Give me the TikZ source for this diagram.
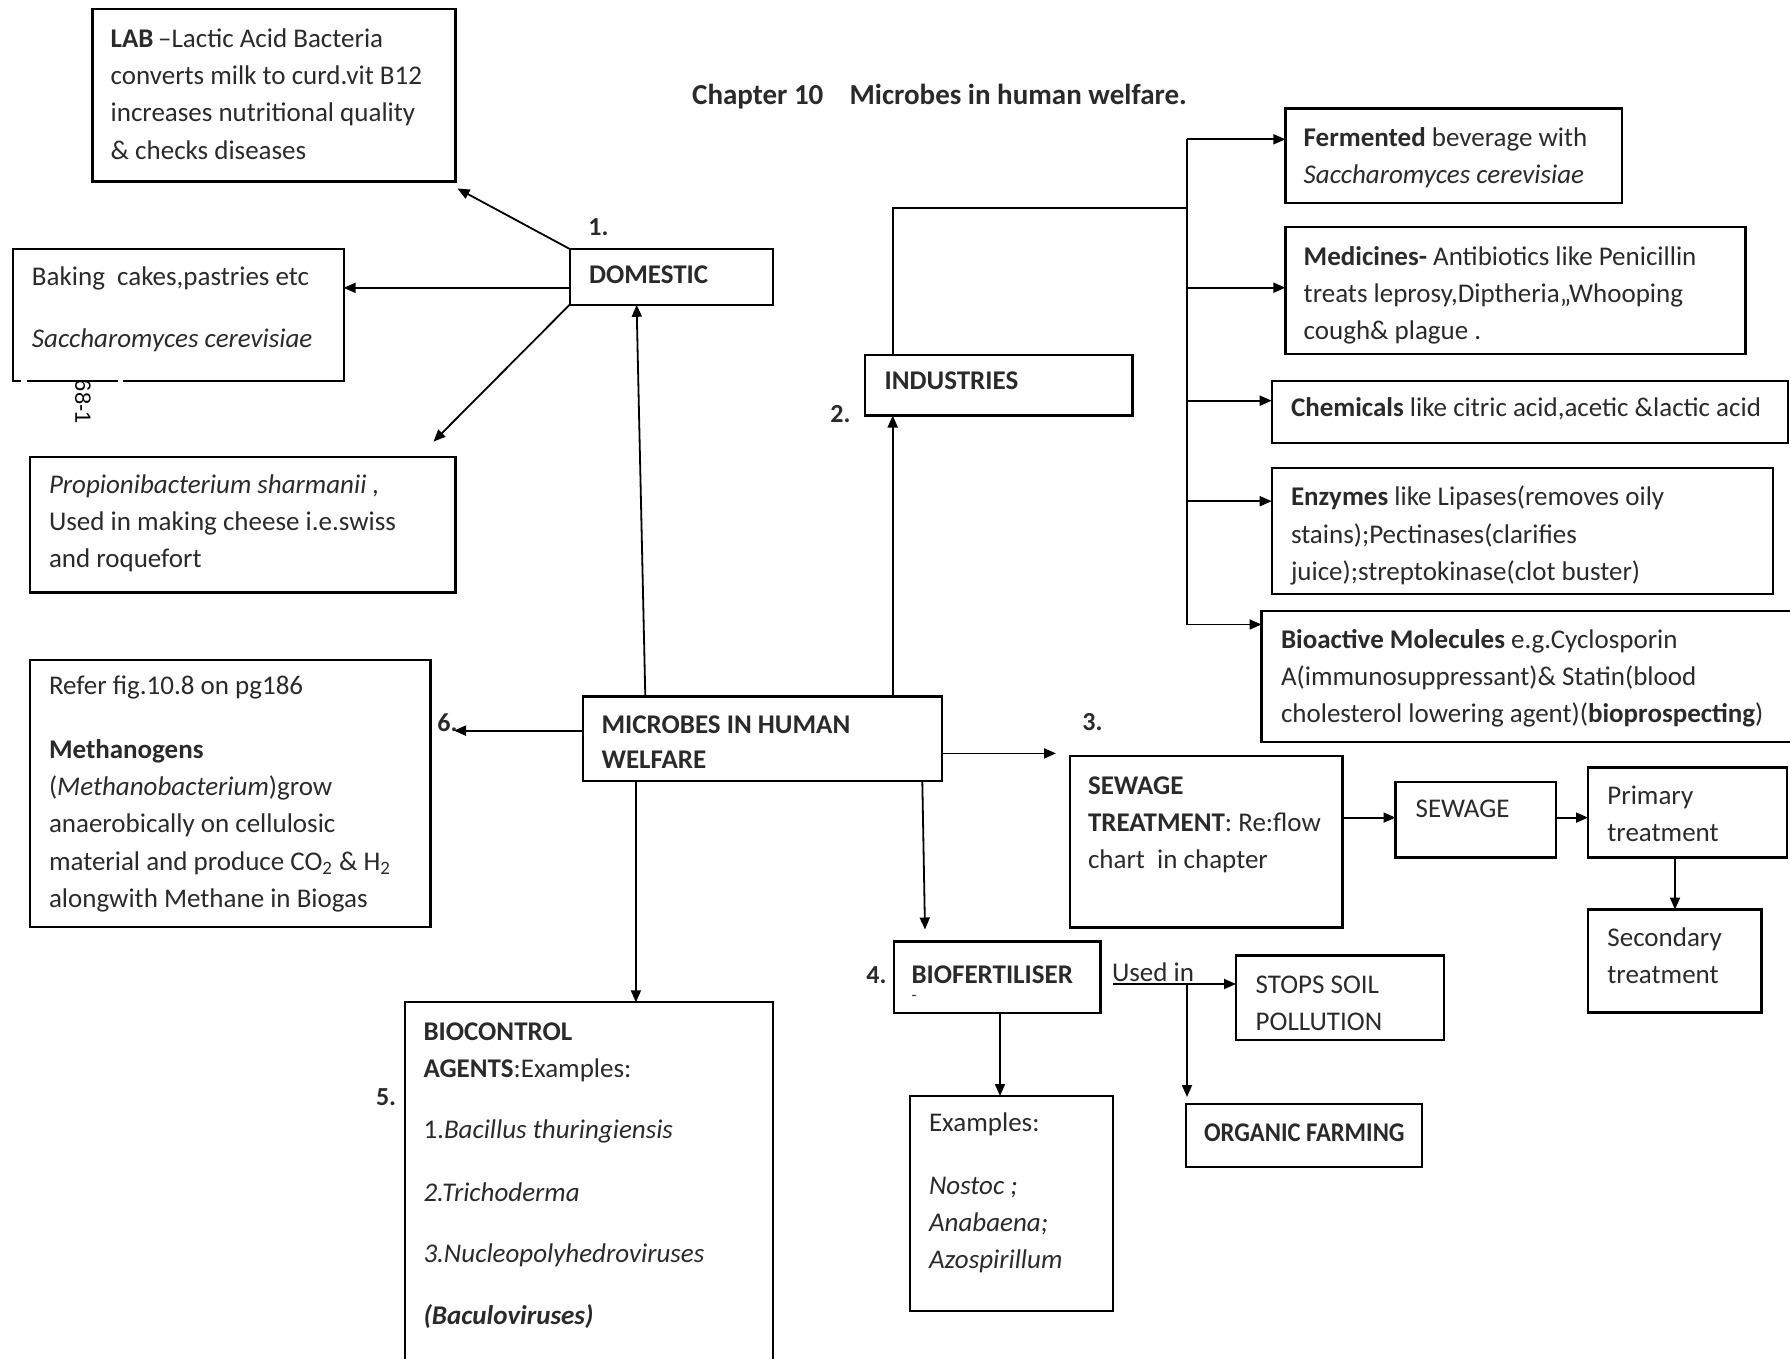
\documentclass[tikz,border=0pt]{standalone}
\usepackage{fontspec}
\setmainfont{Carlito}
\newfontfamily\pagenofont{Liberation Sans}
\usetikzlibrary{arrows.meta,calc,fit}
\definecolor{ink}{HTML}{2A2A2A}
% strut that fixes the height of the first line of every text block
\newcommand\fl{\rule{0pt}{11pt}}
\begin{document}
\begin{tikzpicture}[x=0.5pt,y=-0.5pt,
  box/.style={draw=black,line width=1.1pt,inner sep=0pt,outer sep=0pt},
  conn/.style={line width=0.9pt},
  arr/.style={conn,-{Triangle[length=6pt,width=5pt]}},
  txt/.style={anchor=north west,inner sep=0pt,outer sep=0pt,align=left,yshift=11pt,
              text=ink,font=\fontsize{13.5}{18.7}\selectfont},
  num/.style={anchor=base west,inner sep=0pt,text=ink,font=\fontsize{13}{15}\selectfont\bfseries}]
\useasboundingbox (0,0) rectangle (1790,1359);
\clip (0,0) rectangle (1790,1359);

% ---------- title ----------
\node[anchor=base west,inner sep=0pt,text=ink,font=\fontsize{14.5}{17}\selectfont\bfseries]
  (title) at (691.8,105) {Chapter 10\hspace{0.9em}Microbes in human welfare.};

% ---------- boxes ----------
\node[box,fit={(92.5,9) (455.5,181.5)}]      (lab)  {};
\node[box,fit={(569.6,248.9) (772.9,304.8)}] (dom)  {};
\node[box,fit={(12.6,248.9) (343.6,381.3)}]  (bak)  {};
\node[box,fit={(29.7,456.6) (455.5,592.5)}]  (prop) {};
\node[box,fit={(29.7,659.8) (430.4,927)}]    (meth) {};
\node[box,fit={(583.3,696.4) (941.8,780.8)}] (mic)  {};
\node[box,fit={(865.3,355) (1132.5,415.5)}]  (ind)  {};
\node[box,fit={(1285.4,108.5) (1622.2,203.2)}] (fer) {};
\node[box,fit={(1285.4,227.2) (1745.5,353.9)}] (med) {};
\node[box,fit={(1271.7,381.3) (1787.7,443)}]   (chem) {};
\node[box,fit={(1271.7,468) (1772.9,593.6)}]   (enz) {};
\node[box,fit={(1261.5,610.7) (1800,742)}]     (bio) {};
\node[box,fit={(1069.7,755.7) (1342.5,927.5)}] (st)  {};
\node[box,fit={(1395.5,782) (1556,857.5)}]     (sew) {};
\node[box,fit={(1588,767.5) (1787,857.5)}]     (pri) {};
\node[box,fit={(1588,909.5) (1761.5,1012.5)}]  (sec) {};
\node[box,fit={(894,941.5) (1100.5,1012.8)}]   (bf)  {};
\node[box,fit={(1236,955.5) (1444,1040)}]      (stop) {};
\node[box,fit={(1186,1104) (1422,1167)}]       (org) {};
\node[box,fit={(910,1096) (1113,1310.6)}]      (ex)  {};
\node[box,fit={(405.3,1002.3) (772.9,1375)}]   (bc)  {};

% small breaks in the lower border of the baking box and the page mark
\fill[white] (21,378) rectangle (27,385);
\fill[white] (118,378) rectangle (123,385);
\node[rotate=-90,inner sep=0pt,font=\pagenofont\fontsize{11}{12}\selectfont] (pageno) at (83,402) {68-1};

% ---------- texts ----------
\node[txt] (labt) at (110.7,47) {\fl\textbf{LAB}\,–Lactic Acid Bacteria\\converts milk to curd.vit B12\\increases nutritional quality\\\& checks diseases};
\node[txt] (domt) at (589,284) {\fl\textbf{DOMESTIC}};
\node[num] (n1) at (588,235) {1.};
\node[txt] (bakt) at (32,285) {\fl Baking\ \ cakes,pastries etc\\[12.4pt]\textit{Saccharomyces cerevisiae}};
\node[txt] (propt) at (49,493) {\fl\textit{Propionibacterium sharmanii ,}\\Used in making cheese i.e.swiss\\and roquefort};
\node[txt] (metht) at (49,694) {\fl Refer fig.10.8 on pg186\\[13.3pt]\textbf{Methanogens}\\(\textit{Methanobacterium})grow\\anaerobically on cellulosic\\material and produce CO\textsubscript{2} \& H\textsubscript{2}\\alongwith Methane in Biogas};
\node[txt,font=\fontsize{13.5}{17.7}\selectfont\bfseries] (mict) at (601.6,733) {\fl MICROBES IN HUMAN\\WELFARE};
\node[num] (n6) at (437,731) {6.};
\node[txt] (indt) at (884.7,389) {\fl\textbf{INDUSTRIES}};
\node[num] (n2) at (830,422) {2.};
\node[txt] (fert) at (1303.7,146) {\fl\textbf{Fermented} beverage with\\\textit{Saccharomyces cerevisiae}};
\node[txt] (medt) at (1303.7,265) {\fl\textbf{Medicines-} Antibiotics like Penicillin\\treats leprosy,Diptheria,,Whooping\\cough\& plague .};
\node[txt] (chemt) at (1291,416.5) {\fl\textbf{Chemicals} like citric acid,acetic \&lactic acid};
\node[txt] (enzt) at (1291,505.6) {\fl\textbf{Enzymes} like Lipases(removes oily\\stains);Pectinases(clarifies\\juice);streptokinase(clot buster)};
\node[txt] (biot) at (1281,648) {\fl\textbf{Bioactive Molecules} e.g.Cyclosporin\\A(immunosuppressant)\& Statin(blood\\cholesterol lowering agent)(\textbf{bioprospecting})};
\node[num] (n3) at (1082,730) {3.};
\node[txt] (stt) at (1088,794) {\fl\textbf{SEWAGE}\\\textbf{TREATMENT}: Re:flow\\chart\ \ in chapter};
\node[txt] (sewt) at (1415.6,817) {\fl SEWAGE};
\node[txt] (prit) at (1607.4,804) {\fl Primary\\treatment};
\node[txt] (sect) at (1607.4,946) {\fl Secondary\\treatment};
\node[num] (n4) at (866,983) {4.};
\node[txt] (bft) at (911.5,983) {\fl\textbf{BIOFERTILISER}};
\node[inner sep=0pt,text=ink,font=\fontsize{8}{8}\selectfont] (bfmark) at (914,998) {-};
\node[txt] (used) at (1112,981) {\fl Used in};
\node[txt] (stopt) at (1255.7,993) {\fl STOPS SOIL\\POLLUTION};
\node[txt,font=\fontsize{13.5}{15}\selectfont\bfseries] (orgt) at (1204,1141) {\fl\scalebox{0.91}[1]{ORGANIC FARMING}};
\node[txt] (ext) at (929,1131) {\fl Examples:\\[12.8pt]\textit{Nostoc ;}\\\textit{Anabaena;}\\\textit{Azospirillum}};
\node[num] (n5) at (375.6,1105) {5.};
\node[txt] (bct) at (423.5,1040) {\fl\textbf{BIOCONTROL}\\\textbf{AGENTS}:Examples:\\[11.8pt]1.\textit{Bacillus thuringiensis}\\[12.8pt]\textit{2.Trichoderma}\\[11.8pt]\textit{3.Nucleopolyhedroviruses}\\[12.3pt]\textbf{\textit{(Baculoviruses)}}};

% ---------- free ends and junctions ----------
\coordinate (m6end) at (454,730.6);
\coordinate (m3end) at (1056,753.4);
\coordinate (tj)  at (1187.2,207.8);
\coordinate (tb1) at (1187.2,139.3);
\coordinate (tb2) at (1187.2,287.7);
\coordinate (tb3) at (1187.2,400.7);
\coordinate (tb4) at (1187.2,501.2);
\coordinate (tb5) at (1187.2,624.5);
\coordinate (u0)  at (1113,984);
\coordinate (u1)  at (1187,984);

% ---------- connectors ----------
% domestic uses
\draw[arr] (dom.north west) -- ($(lab.south east)+(2,7)$);
\draw[arr] ($(dom.west)+(0,11)$) coordinate (d1) -- (d1 -| bak.east);
\draw[arr] (dom.south west) -- ($(prop.north east)+(-22,-15)$);
% from the central box
\draw[arr] ($(mic.north west)+(62,0)$) -- ($(dom.south west)+(67,0)$);
\draw[arr] ($(mic.west)+(0,-8)$) -- (m6end);
\draw[arr] ($(mic.north west)+(309.4,0)$) coordinate (mi) -- (mi |- ind.south);
\draw[arr] ($(mic.east)+(0,14.8)$) -- (m3end);
\draw[arr] ($(mic.south west)+(339,0)$) -- ($(bf.north west)+(31,-12)$);
\draw[arr] ($(mic.south west)+(52.6,0)$) coordinate (b5) -- (b5 |- bc.north);
% industries tree
\draw[conn] (mi |- ind.north) |- (tj);
\draw[conn] (tb1) -- (tb5);
\draw[arr] (tb1) -- (tb1 -| fer.west);
\draw[arr] (tb2) -- (tb2 -| med.west);
\draw[arr] (tb3) -- (tb3 -| chem.west);
\draw[arr] (tb4) -- (tb4 -| enz.west);
\draw[arr] (tb5) -- (tb5 -| bio.west);
% sewage treatment chain
\draw[arr] ($(st.east)+(0,-24)$) coordinate (s1) -- (s1 -| sew.west);
\draw[arr] (s1 -| sew.east) -- (s1 -| pri.west);
\draw[arr] ($(pri.south west)+(87,0)$) coordinate (p1) -- (p1 |- sec.north);
% biofertiliser
\draw[arr] ($(bf.south west)+(106,0)$) coordinate (f1) -- (f1 |- ex.north);
\draw[arr] (u0) -- (u0 -| stop.west);
\draw[arr] (u1) -- ($(u1 |- org.north)+(0,-7)$);
\end{tikzpicture}
\end{document}
